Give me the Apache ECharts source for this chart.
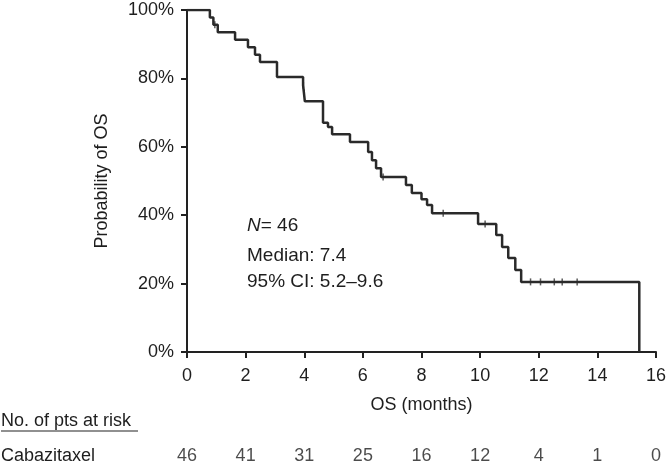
<!DOCTYPE html>
<html>
<head>
<meta charset="utf-8">
<script src="https://cdn.jsdelivr.net/npm/echarts@6/dist/echarts.min.js"></script>
<style>
html,body{margin:0;padding:0;background:#fff;}
#c{width:672px;height:467px;}
</style>
</head>
<body>
<div id="c"></div>
<script>
// Kaplan-Meier step points: time (months) and survival after the event
const months   = [0, 0.78, 0.90, 1.05, 1.64, 2.08, 2.32, 2.49, 3.07, 3.96, 3.99, 4.02, 4.64, 4.81, 4.95, 5.56, 6.18, 6.31, 6.45, 6.62, 7.47, 7.67, 8.00, 8.19, 8.36, 9.93, 10.55, 10.75, 10.96, 11.20, 11.40, 15.43];
const survival = [1.0, 0.978, 0.957, 0.935, 0.913, 0.891, 0.869, 0.848, 0.804, 0.780, 0.757, 0.733, 0.670, 0.658, 0.637, 0.614, 0.585, 0.561, 0.537, 0.512, 0.488, 0.465, 0.447, 0.430, 0.406, 0.374, 0.342, 0.307, 0.275, 0.240, 0.205, 0.0];
// Censored observations
const censorMonths   = [0.95, 3.97, 4.00, 6.69, 8.74, 10.17, 11.72, 12.06, 12.53, 12.80, 13.31];
const censorSurvival = [0.957, 0.780, 0.757, 0.512, 0.406, 0.374, 0.205, 0.205, 0.205, 0.205, 0.205];
// Number at risk table
const riskTimes = [0, 2, 4, 6, 8, 10, 12, 14, 16];
const atRisk    = [46, 41, 31, 25, 16, 12, 4, 1, 0];
const xTicks = [0, 2, 4, 6, 8, 10, 12, 14, 16];
const yTicks = [0, 0.2, 0.4, 0.6, 0.8, 1.0];

const FONT = '"Liberation Sans", Arial, Helvetica, sans-serif';
const TXT = '#1e1e1e';
const FS = 18;
const FSA = 19;

const chart = echarts.init(document.getElementById('c'), null, {renderer: 'canvas'});
const kmData = months.map((t, i) => [t, survival[i]]);
const censorData = censorMonths.map((t, i) => [t, censorSurvival[i]]);
const riskData = riskTimes.map((t, i) => [t, 0.5, atRisk[i]]);

chart.setOption({
  animation: false,
  backgroundColor: '#fff',
  textStyle: {fontFamily: FONT},
  grid: [
    {left: 187, right: 16, top: 10, bottom: 115},
    {left: 187, right: 16, top: 446, height: 22}
  ],
  xAxis: [{
    gridIndex: 0, type: 'value', min: 0, max: 16, interval: 2,
    name: 'OS (months)', nameLocation: 'middle', nameGap: 44,
    nameTextStyle: {fontSize: FS, color: TXT, fontFamily: FONT},
    axisLine: {lineStyle: {color: '#222', width: 2}},
    axisTick: {show: true, length: 6, lineStyle: {color: '#222', width: 2}},
    axisLabel: {fontSize: FS, color: TXT, margin: 15, fontFamily: FONT},
    splitLine: {show: false}
  }, {
    gridIndex: 1, type: 'value', min: 0, max: 16, interval: 2, show: false
  }],
  yAxis: [{
    gridIndex: 0, type: 'value', min: 0, max: 1, interval: 0.2,
    name: 'Probability of OS', nameLocation: 'middle', nameGap: 76,
    nameTextStyle: {fontSize: FS, color: TXT, fontFamily: FONT},
    axisLine: {show: true, lineStyle: {color: '#222', width: 2}},
    axisTick: {show: true, length: 6, lineStyle: {color: '#222', width: 2}},
    axisLabel: {fontSize: FS, color: TXT, margin: 13, fontFamily: FONT,
      formatter: v => Math.round(v * 100) + '%'},
    splitLine: {show: false}
  }, {
    gridIndex: 1, type: 'value', min: 0, max: 1, show: false
  }],
  series: [{
    type: 'line', xAxisIndex: 0, yAxisIndex: 0,
    data: kmData, step: 'end', showSymbol: false, symbol: 'none',
    lineStyle: {color: '#2a2a2a', width: 2.5}
  }, {
    type: 'scatter', xAxisIndex: 0, yAxisIndex: 0,
    data: censorData, symbol: 'rect', symbolSize: [1.5, 7],
    itemStyle: {color: '#333'}
  }, {
    type: 'scatter', xAxisIndex: 1, yAxisIndex: 1,
    data: riskData, symbolSize: 0,
    label: {show: true, position: 'inside', fontSize: FS, color: TXT, fontFamily: FONT,
      formatter: p => String(p.value[2])}
  }],
  graphic: [
    {type: 'text', left: 247, top: 216, style: {
      text: '{i|N}{n|= 46}', fill: TXT,
      rich: {i: {fontStyle: 'italic', fontSize: FSA, fontFamily: FONT, fill: TXT},
             n: {fontSize: FSA, fontFamily: FONT, fill: TXT}}}},
    {type: 'text', left: 247, top: 246, style: {text: 'Median: 7.4', fontSize: FSA, fontFamily: FONT, fill: TXT}},
    {type: 'text', left: 247, top: 272, style: {text: '95% CI: 5.2\u20139.6', fontSize: FSA, fontFamily: FONT, fill: TXT}},
    {type: 'text', left: 1, top: 412, style: {text: 'No. of pts at risk', fontSize: FS, fontFamily: FONT, fill: TXT}},
    {type: 'line', shape: {x1: 1, y1: 431, x2: 138, y2: 431}, style: {stroke: '#222', lineWidth: 1.2}},
    {type: 'text', left: 1, top: 447, style: {text: 'Cabazitaxel', fontSize: FS, fontFamily: FONT, fill: TXT}}
  ]
});
</script>
</body>
</html>
